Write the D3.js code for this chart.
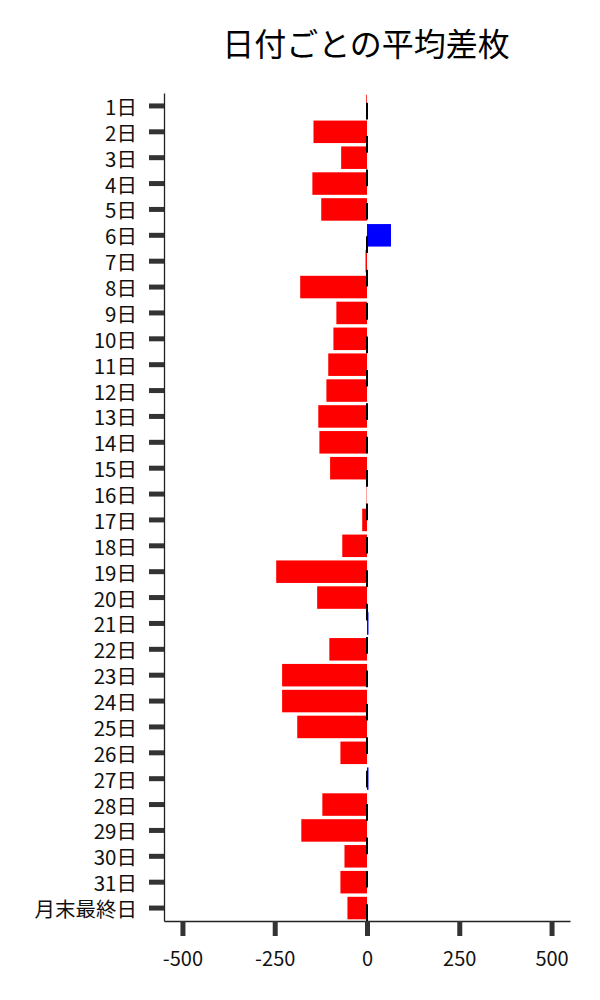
<!DOCTYPE html>
<html>
<head>
<meta charset="utf-8">
<script src="https://cdn.jsdelivr.net/npm/d3@7"></script>
<style>
    body { margin: 0; background: #fff; }
    text { font-family: "Noto Sans CJK JP", "Noto Sans", sans-serif; }
</style>
</head>
<body>
<svg id="chart" width="600" height="1000"></svg>
<script>
// 日付ごとの平均差枚
const days = ["1日", "2日", "3日", "4日", "5日", "6日", "7日", "8日", "9日", "10日",
    "11日", "12日", "13日", "14日", "15日", "16日", "17日", "18日", "19日", "20日",
    "21日", "22日", "23日", "24日", "25日", "26日", "27日", "28日", "29日", "30日",
    "31日", "月末最終日"];
const avgDiff = [-2, -145, -70, -148, -124, 65, -4, -181, -83, -91,
    -105, -110, -132, -129, -100, -1, -13, -67, -246, -135,
    4, -102, -230, -230, -189, -72, 4, -121, -178, -61,
    -72, -53];
const xTicks = [-500, -250, 0, 250, 500];
const xDomain = [-550, 550];

var svg = d3.select("#chart");

// plot area
var plotLeft = 164, plotRight = 570, plotTop = 93, plotBottom = 921;

var x = d3.scaleLinear().domain(xDomain).range([plotLeft, plotRight]);
var y = d3.scaleBand()
    .domain(days)
    .range([plotTop, plotBottom])
    .paddingInner(0.13)
    .paddingOuter(0.065);

// title
svg.append("text")
    .attr("x", (plotLeft + plotRight) / 2 - 1)
    .attr("y", 42)
    .attr("text-anchor", "middle")
    .attr("dominant-baseline", "central")
    .style("font-size", "32px")
    .style("fill", "#000")
    .text("日付ごとの平均差枚");

// bars
svg.append("g")
    .selectAll("rect")
    .data(days)
    .join("rect")
    .attr("x", (d, i) => x(Math.min(0, avgDiff[i])))
    .attr("y", d => y(d))
    .attr("width", (d, i) => Math.abs(x(avgDiff[i]) - x(0)))
    .attr("height", y.bandwidth())
    .style("fill", (d, i) => avgDiff[i] >= 0 ? "#0000ff" : "#ff0000");

// dashed zero line, drawn bottom -> top
svg.append("line")
    .attr("x1", x(0)).attr("x2", x(0))
    .attr("y1", plotBottom).attr("y2", plotTop)
    .style("stroke", "#000")
    .style("stroke-width", 2)
    .style("stroke-dasharray", "16.7,16.7");

// y axis
var yAxis = svg.append("g")
    .attr("transform", "translate(" + plotLeft + ",0)")
    .call(d3.axisLeft(y).tickSize(15).tickPadding(12).tickSizeOuter(0));
yAxis.select(".domain").style("stroke", "#222").style("stroke-width", 1.3);
yAxis.selectAll(".tick line").style("stroke", "#333").style("stroke-width", 5);
yAxis.selectAll(".tick text")
    .style("font-size", "20.5px")
    .style("fill", "#111")
    .attr("dy", null)
    .attr("dominant-baseline", "central");

// x axis
var xAxis = svg.append("g")
    .attr("transform", "translate(0," + plotBottom + ")")
    .call(d3.axisBottom(x).tickValues(xTicks).tickFormat(d => String(d))
        .tickSize(15).tickPadding(10).tickSizeOuter(0));
xAxis.select(".domain").style("stroke", "#222").style("stroke-width", 1.3);
xAxis.selectAll(".tick line").style("stroke", "#333").style("stroke-width", 5);
xAxis.selectAll(".tick text")
    .style("font-size", "20px")
    .style("fill", "#111")
    .attr("y", 36)
    .attr("dy", null)
    .attr("dominant-baseline", "central");
</script>
</body>
</html>
